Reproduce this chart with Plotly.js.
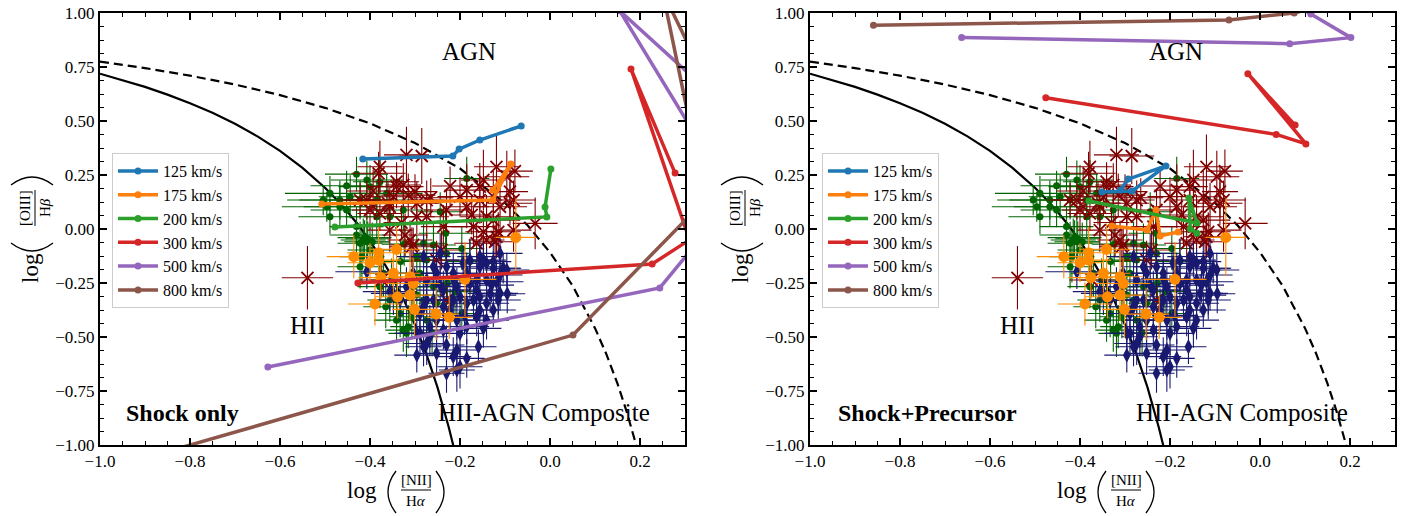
<!DOCTYPE html>
<html>
<head>
<meta charset="utf-8">
<script src="https://cdn.plot.ly/plotly-3.0.1.min.js"></script>
<style>html,body{margin:0;padding:0;background:#fff;}#chart{width:1406px;height:516px;}</style>
</head>
<body>
<div id="chart"></div>
<script>
// ---------------- demarcation curves (values read / tabulated) ----------------
const kauffX = [-1.0,-0.95,-0.9,-0.85,-0.8,-0.75,-0.7,-0.65,-0.6,-0.55,-0.5,-0.475,-0.45,-0.425,-0.4,-0.375,-0.35,-0.325,-0.3,-0.275,-0.25,-0.225,-0.215];
const kauffY = [0.719,0.690,0.658,0.622,0.582,0.538,0.487,0.429,0.362,0.283,0.191,0.138,0.080,0.016,-0.056,-0.135,-0.225,-0.327,-0.443,-0.577,-0.733,-0.918,-1.002];
const kewleyX = [-1.0,-0.9,-0.8,-0.7,-0.6,-0.5,-0.4,-0.3,-0.2,-0.1,-0.05,0.0,0.05,0.1,0.125,0.15,0.17,0.19,0.1915];
const kewleyY = [0.775,0.745,0.710,0.669,0.620,0.561,0.489,0.398,0.280,0.120,0.017,-0.108,-0.262,-0.459,-0.578,-0.716,-0.843,-0.989,-1.000];

// ---------------- observed data ----------------
const crossX = [-0.319,-0.285,-0.381,-0.341,-0.326,-0.300,-0.222,-0.315,-0.356,-0.296,-0.274,-0.378,-0.400,-0.119,-0.078,-0.148,-0.089,-0.081,-0.111,-0.141,-0.174,-0.115,-0.148,-0.033,-0.122,-0.322,-0.307,-0.422,-0.237,-0.374,-0.230,-0.539,-0.348,-0.393,-0.265,-0.330,-0.156,-0.126,-0.089,-0.170,-0.119,-0.141,-0.185,-0.304,-0.241,-0.360,-0.200,
  -0.378,-0.341,-0.407,-0.296,-0.274,-0.230,-0.185,-0.156,-0.096,-0.126,-0.163,-0.081,-0.311,-0.252,-0.356];
const crossY = [0.343,0.338,0.258,0.219,0.204,0.173,0.199,0.157,0.103,0.057,0.057,0.072,0.088,0.288,0.268,0.227,0.173,0.134,0.103,0.057,0.065,-0.013,-0.013,0.026,-0.059,-0.028,-0.082,0.134,0.011,-0.236,-0.329,-0.226,0.149,0.176,0.145,0.030,0.134,0.149,0.119,0.011,-0.036,-0.051,0.103,-0.074,-0.097,0.120,0.150,
  0.288,0.196,0.134,0.119,0.134,0.088,0.180,0.196,0.242,0.041,-0.066,-0.005,-0.051,-0.144,-0.005];
const crossEX = [0.05,0.05,0.06,0.05,0.04,0.05,0.04,0.06,0.05,0.04,0.05,0.05,0.04,0.05,0.04,0.05,0.04,0.05,0.06,0.06,0.05,0.05,0.04,0.05,0.05,0.05,0.05,0.05,0.05,0.05,0.04,0.057,0.05,0.06,0.05,0.04,0.05,0.04,0.05,0.05,0.05,0.04,0.05,0.05,0.04,0.05,0.05,
  0.05,0.06,0.05,0.05,0.04,0.05,0.05,0.04,0.05,0.06,0.05,0.04,0.05,0.05,0.05];
const crossEY = [0.13,0.13,0.10,0.09,0.10,0.08,0.09,0.10,0.09,0.08,0.10,0.08,0.09,0.15,0.10,0.14,0.12,0.09,0.11,0.10,0.09,0.09,0.10,0.12,0.08,0.10,0.09,0.08,0.10,0.08,0.08,0.147,0.09,0.10,0.09,0.08,0.11,0.12,0.10,0.09,0.10,0.09,0.10,0.08,0.09,0.10,0.09,
  0.12,0.10,0.09,0.10,0.09,0.10,0.12,0.11,0.12,0.10,0.09,0.10,0.09,0.09,0.10];

const greenX = [-0.430,-0.378,-0.504,-0.422,-0.415,-0.407,-0.326,-0.244,-0.232,-0.185,-0.324,-0.274,-0.296,-0.196,-0.259,-0.211,-0.196,-0.296,-0.341,-0.326,-0.307,-0.252,-0.378,-0.422,-0.418,-0.430,-0.489,-0.467,-0.444,-0.385,-0.356,-0.341,-0.274,-0.319,-0.289,-0.352,-0.405,-0.395,-0.412,-0.452,-0.365,-0.228,-0.178,-0.332,-0.262,
  -0.489,-0.467,-0.452,-0.496,-0.407,-0.400,-0.363,-0.385,-0.430,-0.422,-0.400,-0.370,-0.356,-0.304,-0.281,-0.333,-0.315,-0.259,-0.230,-0.281];
const greenY = [0.254,0.219,0.134,0.134,-0.051,-0.059,0.088,0.080,-0.020,0.234,-0.070,-0.144,-0.128,-0.090,-0.074,-0.290,-0.391,-0.306,-0.422,-0.468,-0.406,-0.344,-0.267,-0.175,-0.128,0.011,0.057,0.103,0.149,0.134,0.057,-0.329,-0.422,-0.483,-0.205,-0.236,-0.045,-0.060,-0.040,0.200,-0.360,-0.250,-0.150,-0.150,-0.480,
  0.165,0.134,0.088,0.103,0.227,0.196,0.165,0.057,-0.028,-0.066,-0.097,-0.205,-0.329,-0.267,-0.329,-0.391,-0.452,-0.267,-0.113,-0.066];
const greenEX = [0.07,0.06,0.08,0.07,0.05,0.05,0.06,0.05,0.06,0.05,0.05,0.05,0.04,0.05,0.05,0.04,0.04,0.05,0.05,0.04,0.05,0.04,0.05,0.05,0.05,0.06,0.07,0.08,0.07,0.08,0.06,0.05,0.04,0.04,0.05,0.05,0.05,0.04,0.06,0.08,0.05,0.04,0.05,0.05,0.04,
  0.10,0.09,0.08,0.10,0.08,0.07,0.08,0.07,0.06,0.05,0.05,0.05,0.05,0.05,0.04,0.05,0.04,0.05,0.05,0.05];
const greenEY = [0.08,0.10,0.07,0.09,0.10,0.12,0.10,0.09,0.12,0.10,0.10,0.12,0.10,0.10,0.10,0.10,0.09,0.10,0.10,0.10,0.10,0.09,0.10,0.10,0.12,0.09,0.08,0.09,0.10,0.09,0.10,0.10,0.09,0.11,0.10,0.10,0.08,0.09,0.08,0.07,0.10,0.10,0.10,0.10,0.11,
  0.08,0.09,0.08,0.07,0.09,0.10,0.09,0.10,0.09,0.10,0.10,0.11,0.10,0.10,0.10,0.11,0.10,0.10,0.11,0.10];

const diamondX = [-0.111,-0.141,-0.156,-0.126,-0.104,-0.096,-0.281,-0.259,-0.230,-0.185,-0.163,-0.119,-0.111,-0.115,-0.141,-0.156,-0.170,-0.200,-0.237,-0.259,-0.281,-0.222,-0.252,-0.289,-0.267,-0.274,-0.296,-0.230,-0.207,-0.159,-0.185,-0.207,-0.141,-0.185,-0.148,-0.178,-0.244,-0.304,-0.348,-0.407,-0.163,-0.207,-0.130,-0.095,-0.215,-0.190,
  -0.148,-0.126,-0.156,-0.193,-0.215,-0.252,-0.274,-0.244,-0.207,-0.178,-0.141,-0.111,-0.133,-0.156,-0.185,-0.215,-0.237,-0.274,-0.289,-0.267,-0.237,-0.200,-0.163,-0.126,-0.115,-0.296,-0.281,-0.252,-0.215,-0.200,-0.230,-0.304,-0.319,-0.333,-0.356];
const diamondY = [-0.113,-0.159,-0.175,-0.182,-0.182,-0.190,-0.128,-0.175,-0.175,-0.205,-0.236,-0.244,-0.298,-0.329,-0.344,-0.375,-0.329,-0.314,-0.283,-0.329,-0.360,-0.375,-0.422,-0.483,-0.499,-0.530,-0.584,-0.537,-0.560,-0.545,-0.599,-0.653,-0.422,-0.452,-0.460,-0.144,-0.113,-0.244,-0.298,-0.198,-0.283,-0.422,-0.260,-0.300,-0.230,-0.400,
  -0.144,-0.151,-0.128,-0.159,-0.205,-0.205,-0.236,-0.259,-0.267,-0.252,-0.236,-0.213,-0.298,-0.314,-0.344,-0.329,-0.360,-0.329,-0.391,-0.452,-0.468,-0.483,-0.406,-0.375,-0.306,-0.483,-0.545,-0.576,-0.591,-0.638,-0.668,-0.205,-0.267,-0.329,-0.290];
const diamondEX = [0.05,0.04,0.05,0.06,0.04,0.05,0.06,0.05,0.05,0.04,0.05,0.06,0.04,0.05,0.05,0.04,0.05,0.05,0.06,0.05,0.05,0.04,0.05,0.05,0.04,0.05,0.05,0.04,0.05,0.04,0.04,0.04,0.05,0.05,0.04,0.05,0.06,0.06,0.05,0.07,0.05,0.05,0.05,0.04,0.05,0.05,
  0.05,0.04,0.05,0.05,0.06,0.05,0.05,0.04,0.05,0.05,0.04,0.05,0.05,0.04,0.05,0.05,0.04,0.05,0.05,0.04,0.05,0.05,0.04,0.05,0.04,0.05,0.04,0.05,0.04,0.05,0.04,0.06,0.05,0.05,0.06];
const diamondEY = [0.08,0.07,0.09,0.08,0.07,0.08,0.10,0.09,0.08,0.09,0.08,0.10,0.08,0.09,0.10,0.08,0.09,0.10,0.09,0.10,0.09,0.10,0.09,0.10,0.09,0.10,0.08,0.09,0.10,0.08,0.09,0.10,0.09,0.08,0.09,0.10,0.09,0.09,0.10,0.08,0.09,0.09,0.08,0.09,0.08,0.09,
  0.08,0.09,0.07,0.08,0.09,0.10,0.09,0.08,0.09,0.08,0.09,0.08,0.09,0.10,0.09,0.08,0.09,0.10,0.09,0.10,0.09,0.10,0.09,0.08,0.09,0.10,0.09,0.10,0.09,0.10,0.09,0.08,0.09,0.10,0.09];

const orangeX = [-0.436,-0.400,-0.381,-0.381,-0.341,-0.376,-0.348,-0.311,-0.304,-0.339,-0.311,-0.389,-0.301,-0.253,-0.224,-0.189,-0.076];
const orangeY = [-0.128,-0.156,-0.110,-0.144,-0.094,-0.225,-0.205,-0.221,-0.252,-0.314,-0.306,-0.347,-0.372,-0.394,-0.409,-0.233,-0.039];
const orangeEX = [0.06,0.05,0.07,0.05,0.06,0.05,0.06,0.05,0.06,0.05,0.05,0.06,0.05,0.05,0.05,0.07,0.045];
const orangeEY = [0.10,0.09,0.12,0.10,0.12,0.10,0.09,0.10,0.12,0.10,0.12,0.10,0.13,0.12,0.10,0.17,0.18];

// ---------------- shock models ----------------
const velocities = ['125 km/s','175 km/s','200 km/s','300 km/s','500 km/s','800 km/s'];
const modelColors = ['#1f77b4','#ff7f0e','#2ca02c','#d62728','#9467bd','#8c564b'];

// shock only
const shock125X = [-0.416,-0.216,-0.202,-0.156,-0.064];
const shock125Y = [0.324,0.338,0.370,0.412,0.477];
const shock175X = [-0.507,-0.127,-0.087,-0.127];
const shock175Y = [0.116,0.134,0.301,0.181];
const shock200X = [-0.478,-0.007,-0.011,0.002];
const shock200Y = [0.009,0.056,0.102,0.278];
const shock300X = [-0.427,0.227,0.310,0.180,0.278];
const shock300Y = [-0.250,-0.162,-0.050,0.741,0.259];
const shock500X = [-0.627,0.244,0.340,0.450,0.155,0.500];
const shock500Y = [-0.639,-0.273,-0.030,0.000,1.010,0.358];
const shock800X = [-0.900,0.051,0.380,0.340,0.250,0.400];
const shock800Y = [-1.060,-0.491,0.210,0.195,1.100,0.455];

// shock + precursor
const prec125X = [-0.351,-0.284,-0.209,-0.293,-0.310];
const prec125Y = [0.171,0.176,0.292,0.231,0.180];
const prec175X = [-0.329,-0.251,-0.231,-0.222,-0.182];
const prec175Y = [0.014,-0.005,0.088,-0.032,-0.014];
const prec200X = [-0.380,-0.140,-0.158,-0.155,-0.140];
const prec200Y = [0.130,0.028,0.144,0.000,-0.020];
const prec300X = [-0.476,0.036,0.102,-0.027,0.078];
const prec300Y = [0.608,0.438,0.394,0.719,0.481];
const prec500X = [-0.663,0.066,0.202,0.113,0.070];
const prec500Y = [0.887,0.858,0.886,0.995,1.048];
const prec800X = [-0.859,-0.069,0.076,0.150];
const prec800Y = [0.943,0.968,1.000,1.040];

const shockSets = [[shock125X,shock125Y],[shock175X,shock175Y],[shock200X,shock200Y],[shock300X,shock300Y],[shock500X,shock500Y],[shock800X,shock800Y]];
const precSets = [[prec125X,prec125Y],[prec175X,prec175Y],[prec200X,prec200Y],[prec300X,prec300Y],[prec500X,prec500Y],[prec800X,prec800Y]];

const FONT = 'Liberation Serif, Times New Roman, serif';

function eb(arr, color){ return {type:'data', array:arr, visible:true, thickness:1.1, width:0, color:color}; }

const traces = [];
function addPanel(xa, ya, models, legendName){
  traces.push({x:kauffX, y:kauffY, xaxis:xa, yaxis:ya, mode:'lines', line:{color:'black', width:2.2}, showlegend:false, hoverinfo:'skip'});
  traces.push({x:kewleyX, y:kewleyY, xaxis:xa, yaxis:ya, mode:'lines', line:{color:'black', width:2.2, dash:'9px,5px'}, showlegend:false, hoverinfo:'skip'});
  traces.push({x:greenX, y:greenY, xaxis:xa, yaxis:ya, mode:'markers', marker:{symbol:'circle', size:7, color:'#006400'},
    error_x:eb(greenEX,'#006400'), error_y:eb(greenEY,'#006400'), showlegend:false});
  traces.push({x:crossX, y:crossY, xaxis:xa, yaxis:ya, mode:'markers', marker:{symbol:'x-thin', size:12, color:'#800000', line:{width:1.8, color:'#800000'}},
    error_x:eb(crossEX,'#800000'), error_y:eb(crossEY,'#800000'), showlegend:false});
  traces.push({x:diamondX, y:diamondY, xaxis:xa, yaxis:ya, mode:'markers', marker:{symbol:'diamond-tall', size:11, color:'#191970'},
    error_x:eb(diamondEX,'#191970'), error_y:eb(diamondEY,'#191970'), showlegend:false});
  traces.push({x:orangeX, y:orangeY, xaxis:xa, yaxis:ya, mode:'markers', marker:{symbol:'circle', size:11, color:'#ff8c00'},
    error_x:eb(orangeEX,'#ff8c00'), error_y:eb(orangeEY,'#ff8c00'), showlegend:false});
  models.forEach((m, i) => {
    traces.push({x:m[0], y:m[1], xaxis:xa, yaxis:ya, mode:'lines+markers', name:velocities[i],
      line:{color:modelColors[i], width:3.5}, marker:{size:7, color:modelColors[i]}, legend:legendName});
  });
}
addPanel('x','y',shockSets,'legend');
addPanel('x2','y2',precSets,'legend2');

// layout helpers
const L = 100, T = 13, W = 1295, H = 432;
function pX(px){ return (px - L) / W; }
function pY(py){ return (T + H - py) / H; }

function axisX(domain){
  return {domain:domain, range:[-1,0.3], tick0:-1, dtick:0.2, tickformat:'.1f', ticks:'inside', ticklen:7, tickwidth:1.5,
    tickcolor:'black', showline:true, linecolor:'black', linewidth:2, mirror:'allticks', showgrid:false, zeroline:false,
    tickfont:{family:FONT, size:17, color:'black'},
    minor:{ticks:'inside', dtick:0.05, tick0:-1, ticklen:4, tickwidth:1, tickcolor:'black', showgrid:false}};
}
function axisY(anchor){
  return {anchor:anchor, range:[-1,1], tick0:-1, dtick:0.25, tickformat:'.2f', ticks:'inside', ticklen:7, tickwidth:1.5,
    tickcolor:'black', showline:true, linecolor:'black', linewidth:2, mirror:'allticks', showgrid:false, zeroline:false,
    tickfont:{family:FONT, size:17, color:'black'},
    minor:{ticks:'inside', dtick:0.0625, tick0:-1, ticklen:4, tickwidth:1, tickcolor:'black', showgrid:false}};
}

const annotations = [];
const shapes = [];
function txt(xref, yref, x, y, text, size, bold){
  annotations.push({xref:xref, yref:yref, x:x, y:y, text: bold ? '<b>'+text+'</b>' : text, showarrow:false,
    font:{family:FONT, size:size, color:'black'}, xanchor:'center', yanchor:'middle'});
}
function ptxt(px, py, text, size, angle){
  annotations.push({xref:'paper', yref:'paper', x:pX(px), y:pY(py), text:text, showarrow:false, textangle:angle||0,
    font:{family:FONT, size:size, color:'black'}, xanchor:'center', yanchor:'middle'});
}
function pline(x0,y0,x1,y1){
  shapes.push({type:'line', xref:'paper', yref:'paper', x0:pX(x0), y0:pY(y0), x1:pX(x1), y1:pY(y1), line:{color:'black', width:1}});
}
function pcurve(x0,y0,cx,cy,x1,y1){
  shapes.push({type:'path', xref:'paper', yref:'paper', path:'M '+pX(x0)+','+pY(y0)+' Q '+pX(cx)+','+pY(cy)+' '+pX(x1)+','+pY(y1),
    line:{color:'black', width:1.3}});
}
function axisTitles(dx){
  // x title: log ( [NII] / Hα )
  ptxt(362+dx, 491, 'log', 23);
  pcurve(396+dx,471, 380+dx,492, 396+dx,513);
  ptxt(416+dx, 480, '[NII]', 15);
  pline(401+dx, 490, 431+dx, 490);
  ptxt(416+dx, 501, 'H<i>α</i>', 15);
  pcurve(436+dx,471, 452+dx,492, 436+dx,513);
  // y title: log ( [OIII] / Hβ ) rotated
  ptxt(30+dx, 268, 'log', 23, -90);
  pcurve(11+dx,243, 32+dx,259, 53+dx,243);
  ptxt(25+dx, 208, '[OIII]', 15, -90);
  pline(35+dx, 190, 35+dx, 226);
  ptxt(45+dx, 208, 'H<i>β</i>', 15, -90);
  pcurve(11+dx,185, 32+dx,169, 53+dx,185);
}
axisTitles(0);
axisTitles(710);

txt('x','y',-0.18,0.82,'AGN',25);
txt('x','y',-0.538,-0.445,'HII',25);
txt('x','y',-0.013,-0.85,'HII-AGN Composite',25);
txt('x','y',-0.816,-0.85,'Shock only',24,true);
txt('x2','y2',-0.186,0.82,'AGN',25);
txt('x2','y2',-0.54,-0.445,'HII',25);
txt('x2','y2',-0.04,-0.85,'HII-AGN Composite',25);
txt('x2','y2',-0.738,-0.85,'Shock+Precursor',24,true);

const legendBase = {bgcolor:'rgba(255,255,255,0.85)', bordercolor:'#cccccc', borderwidth:1, font:{family:FONT, size:16, color:'black'},
  xanchor:'left', yanchor:'top', itemwidth:40, tracegroupgap:0};
const layout = {
  width:1406, height:516, margin:{l:L, r:11, t:T, b:71}, paper_bgcolor:'white', plot_bgcolor:'white',
  xaxis: axisX([0, (685-L)/W]), yaxis: axisY('x'),
  xaxis2: Object.assign(axisX([(810-L)/W, 1]), {anchor:'y2'}), yaxis2: axisY('x2'),
  legend: Object.assign({}, legendBase, {x:pX(112), y:pY(153)}),
  legend2: Object.assign({}, legendBase, {x:pX(822), y:pY(153)}),
  annotations: annotations, shapes: shapes, showlegend:true
};
Plotly.newPlot('chart', traces, layout, {staticPlot:true, displayModeBar:false});
</script>
</body>
</html>
